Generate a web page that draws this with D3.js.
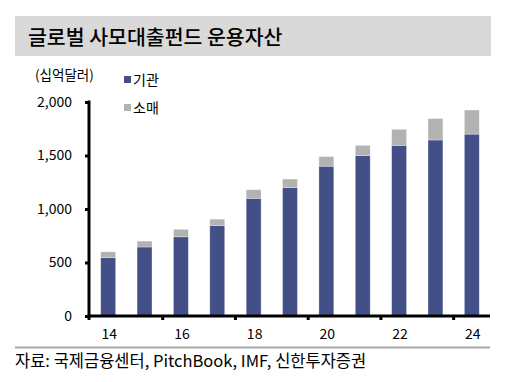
<!DOCTYPE html>
<html><head><meta charset="utf-8">
<script src="https://cdn.jsdelivr.net/npm/d3@7"></script>
<style>body{margin:0;background:#fff}svg{display:block}</style>
</head><body><svg id="c" width="506" height="382"></svg>
<script>
const years = ["14","15","16","17","18","19","20","21","22","23","24"];
const institutional = [545,645,740,845,1100,1200,1400,1500,1595,1645,1700];
const retail = [55,55,70,60,80,80,90,95,150,200,225];
const seriesNames = ["기관","소매"];
const colors = ["#435087","#b2b2b2"];
const yTicks = [0,500,1000,1500,2000];
const xLabelYears = ["14","16","18","20","22","24"];
const title = "글로벌 사모대출펀드 운용자산";
const unit = "(십억달러)";
const source = "자료: 국제금융센터, PitchBook, IMF, 신한투자증권";

const font = "'Noto Sans CJK KR','Noto Sans',sans-serif";
const svg = d3.select("#c");

// title bar
svg.append("rect").attr("x",15).attr("y",16).attr("width",476).attr("height",40).attr("fill","#d9d9d9");
svg.append("text").attr("x",28).attr("y",45).text(title)
  .attr("font-family",font).attr("font-size",20.5).attr("font-weight",500).attr("fill","#000");

const x = d3.scaleBand().domain(years).range([90,490]).paddingInner(0.59).paddingOuter(0.295);
const y = d3.scaleLinear().domain([0,2000]).range([316,102]);

const data = years.map((yr,i)=>({yr, a:institutional[i], b:retail[i]}));
const stack = d3.stack().keys(["a","b"])(data);

svg.append("g").selectAll("g").data(stack).join("g")
  .attr("fill",(d,i)=>colors[i])
  .selectAll("rect").data(d=>d).join("rect")
  .attr("x",d=>x(d.data.yr)).attr("width",x.bandwidth())
  .attr("y",d=>y(d[1])).attr("height",d=>y(d[0])-y(d[1]))
  .attr("stroke","rgba(255,255,255,0.45)").attr("stroke-width",0.7);

// y axis
const ya = svg.append("g").attr("transform","translate(89,0)")
  .call(d3.axisLeft(y).tickValues(yTicks).tickSize(4).tickPadding(13).tickFormat(d3.format(",")));
ya.select(".domain").remove();
ya.selectAll(".tick line").attr("stroke","#000").attr("stroke-width",3);
ya.selectAll("text").attr("font-family",font).attr("font-size",14).attr("fill","#000");
svg.append("line").attr("x1",89).attr("x2",89).attr("y1",y(2000)-1.5).attr("y2",320).attr("stroke","#000").attr("stroke-width",3);

// x axis
svg.append("line").attr("x1",87.5).attr("x2",490).attr("y1",316).attr("y2",316).attr("stroke","#000").attr("stroke-width",3);
const step = x.step();
const x0 = x.range()[0];
[2,4,6,8,10].forEach(k=>{
  const bx = x0 + k*step;
  svg.append("line").attr("x1",bx).attr("x2",bx).attr("y1",316).attr("y2",320).attr("stroke","#000").attr("stroke-width",3);
});
svg.append("g").selectAll("text").data(xLabelYears).join("text")
  .attr("x",d=>x(d)+x.bandwidth()/2+1).attr("y",339).attr("text-anchor","middle")
  .attr("font-family",font).attr("font-size",14).attr("fill","#000").text(d=>d);

// unit
svg.append("text").attr("x",35).attr("y",80).text(unit)
  .attr("font-family",font).attr("font-size",13.5).attr("fill","#000");

// legend
seriesNames.forEach((n,i)=>{
  const ly = 80 + i*28;
  svg.append("rect").attr("x",124).attr("y",ly-4).attr("width",7).attr("height",7).attr("fill",colors[i]);
  svg.append("text").attr("x",133).attr("y",ly+5).text(n)
    .attr("font-family",font).attr("font-size",14).attr("fill","#000");
});

// bottom rule & source
svg.append("line").attr("x1",15).attr("x2",490).attr("y1",347.5).attr("y2",347.5).attr("stroke","#a6a6a6").attr("stroke-width",2);
svg.append("text").attr("x",15).attr("y",367).text(source)
  .attr("font-family",font).attr("font-size",16.5).attr("fill","#000");
</script></body></html>
